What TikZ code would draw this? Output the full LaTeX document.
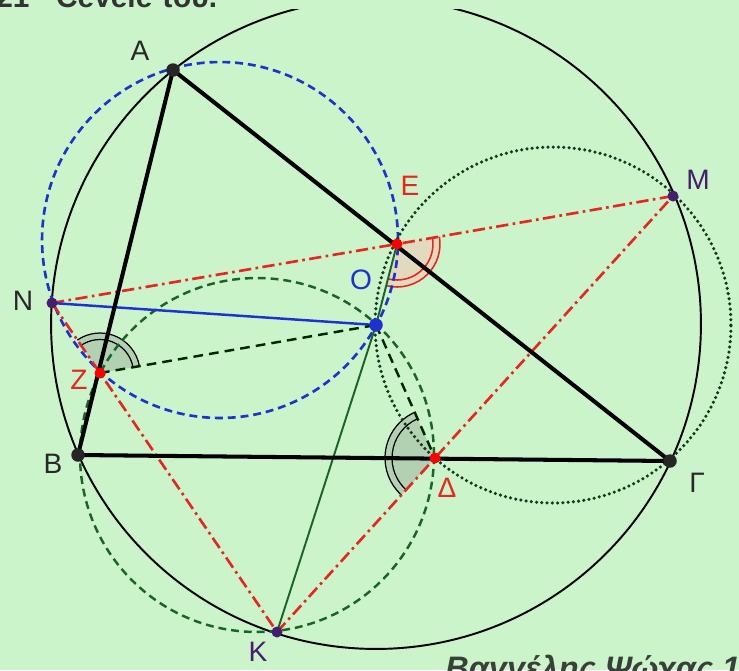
\documentclass[tikz,border=0pt]{standalone}
\usepackage{fontspec}
\setmainfont{Liberation Sans}
\usetikzlibrary{angles}

\definecolor{bg}{RGB}{204,244,202}
\definecolor{myred}{RGB}{232,38,32}
\definecolor{myblue}{RGB}{30,50,210}
\definecolor{dgreen}{RGB}{25,100,40}
\definecolor{dotgreen}{RGB}{20,55,30}
\definecolor{purp}{RGB}{70,30,110}
\definecolor{lbl}{RGB}{40,40,40}
\definecolor{sectorfill}{RGB}{178,208,178}
\definecolor{pinkfill}{RGB}{226,218,190}
\definecolor{sign}{RGB}{55,65,55}

\tikzset{
  circum/.style={line width=1.1pt, black},
  bluedash/.style={myblue, line width=1.5pt, dash pattern=on 4.5pt off 2.8pt},
  greendash/.style={dgreen, line width=1.4pt, dash pattern=on 4.5pt off 2.8pt},
  dotcirc/.style={dotgreen, line width=2pt, line cap=round, dash pattern=on 0pt off 3pt},
  reddashdot/.style={myred, line width=1.5pt, dash pattern=on 7pt off 2.5pt on 1.5pt off 2.5pt},
  blackdash/.style={black!85!green, line width=1.4pt, dash pattern=on 5.5pt off 3.5pt},
  tri/.style={black, line width=2.3pt, line join=round, line cap=round},
  ptdot/.style={circle, fill=#1, inner sep=0pt, minimum size=0.22cm},
  bigdot/.style={circle, fill=#1, inner sep=0pt, minimum size=0.27cm},
  lab/.style={inner sep=0pt, font=\fontsize{16}{18}\selectfont, text=#1}
}

\begin{document}
\begin{tikzpicture}[x=0.02cm, y=-0.02cm]
\fill[bg] (0,0) rectangle (739,670);
\useasboundingbox (0,0) rectangle (739,670);

% points
\coordinate (A) at (173,70);
\coordinate (B) at (78,455);
\coordinate (G) at (670,461);
\coordinate (N) at (52,303);
\coordinate (M) at (673,196);
\coordinate (K) at (277,632);
\coordinate (E) at (397,244);
\coordinate (Z) at (100,373);
\coordinate (D) at (435,458);
\coordinate (O) at (376,325);
% circle centres
\coordinate (Cc) at (376,324);
\coordinate (Cb) at (220,240);
\coordinate (Cg) at (257,455);
\coordinate (Cd) at (553,325);

% angle sectors
\pic[fill=sectorfill, draw=black, line width=0.7pt, angle radius=0.8cm] {angle=O--Z--N};
\pic[draw=black, line width=0.7pt, angle radius=0.67cm] {angle=O--Z--N};
\pic[fill=sectorfill, draw=black, line width=0.7pt, angle radius=1.0cm] {angle=O--D--K};
\pic[draw=black, line width=0.7pt, angle radius=0.86cm] {angle=O--D--K};
\pic[fill=pinkfill, draw=myred, line width=0.9pt, angle radius=0.86cm] {angle=O--E--M};
\pic[draw=myred, line width=0.9pt, angle radius=0.72cm] {angle=O--E--M};

% circles
\begin{scope}
\clip (0,9) rectangle (739,670);
\draw[circum] (Cc) circle[radius=6.5cm];
\end{scope}
\draw[bluedash] (Cb) circle[radius=3.56cm];
\draw[greendash] (Cg) circle[radius=3.54cm];
\draw[dotcirc] (Cd) circle[radius=3.56cm];

% red dash-dot lines
\draw[reddashdot] (N) -- (E) -- (M);
\draw[reddashdot] (N) -- (Z) -- (K);
\draw[reddashdot] (K) -- (D) -- (M);

% other lines
\draw[myblue, line width=1.4pt] (N) -- (O);
\draw[dgreen, line width=1.1pt] (K) -- (O) -- (E);
\draw[blackdash] (Z) -- (O);
\draw[blackdash] (O) -- (D);

% triangle
\draw[tri] (A) -- (B) -- (G) -- cycle;

% dots
\node[bigdot=black!85] (dA) at (A) {};
\node[bigdot=black!85] (dB) at (B) {};
\node[bigdot=black!85] (dG) at (G) {};
\node[ptdot=purp] (dN) at (N) {};
\node[ptdot=purp] (dM) at (M) {};
\node[ptdot=purp] (dK) at (K) {};
\node[ptdot=red] (dE) at (E) {};
\node[ptdot=red] (dZ) at (Z) {};
\node[ptdot=red] (dD) at (D) {};
\node[bigdot=myblue] (dO) at (O) {};

% labels
\node[lab=lbl] (lA) at (140,51) {A};
\node[lab=lbl] (lN) at (23,301) {N};
\node[lab=lbl] (lB) at (53,464) {B};
\node[lab=lbl] (lG) at (697,483) {Γ};
\node[lab=purp] (lK) at (258,652) {K};
\node[lab=purp] (lM) at (698,180) {M};
\node[lab=myred] (lE) at (410,186) {E};
\node[lab=myblue] (lO) at (361,280) {O};
\node[lab=myred] (lZ) at (79,380) {Z};
\node[lab=myred] (lD) at (447,488) {Δ};

% cut-off captions (cut at the picture's edges, as in the reference)
\node[anchor=base west, inner sep=0pt, text=black!80, font=\fontsize{17}{20}\selectfont\bfseries] (top) at (-4,7) {21 · Cevele του.};
\node[anchor=base west, inner sep=0pt, text=sign, font=\fontsize{18.5}{22}\selectfont\bfseries\itshape] (sig) at (445,679) {Βαγγέλης Ψώχας 1};
\end{tikzpicture}
\end{document}
